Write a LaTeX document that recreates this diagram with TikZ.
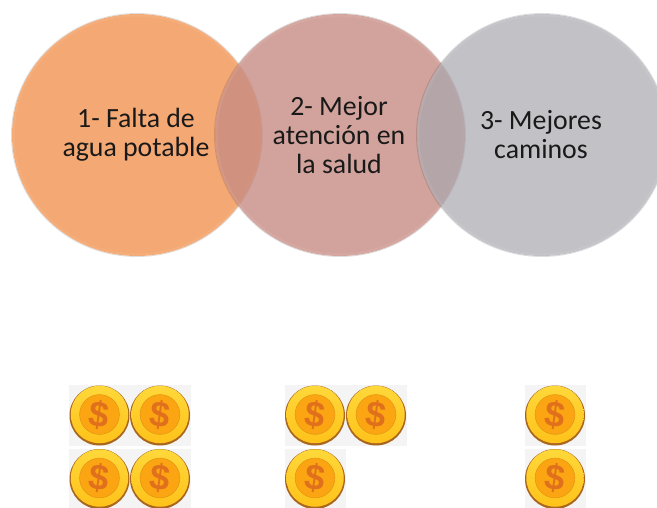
\documentclass[tikz,border=0pt]{standalone}
\usepackage{fontspec}
\setmainfont{Carlito}
\newfontfamily\coinfont{Liberation Sans}
\usetikzlibrary{shapes.geometric}
\definecolor{orangeC}{HTML}{F4A873}
\definecolor{pinkC}{HTML}{C78C83}
\definecolor{grayC}{HTML}{A8A6AE}
\definecolor{coinEdge}{HTML}{A8661E}
\definecolor{coinRim}{HTML}{FFC21A}
\definecolor{coinRimLight}{HTML}{FFD83A}
\definecolor{coinInner}{HTML}{FBA512}
\definecolor{coinSign}{HTML}{E0701C}
\definecolor{coinBack}{HTML}{F4F4F4}
\tikzset{
  x=1pt,y=-1pt,
  disc/.style={ellipse,minimum width=250pt,minimum height=242pt,inner sep=0pt},
  halo/.style={ellipse,minimum width=251pt,minimum height=243pt,inner sep=0pt,draw=black,draw opacity=.13,line width=.9pt},
  bevel/.style={ellipse,minimum width=247pt,minimum height=239pt,inner sep=0pt,draw=white,draw opacity=.07,line width=2pt},
  txt/.style={font=\fontsize{27.8}{29}\selectfont,align=center,text=black!90,inner sep=0pt},
  coinback/.style={fill=coinBack,draw=none,minimum size=61pt,inner sep=0pt},
  coinouter/.style={circle,minimum size=60pt,inner sep=0pt,fill=coinEdge},
  coinface/.style={circle,minimum size=57.5pt,inner sep=0pt,top color=coinRimLight,bottom color=coinRim},
  coininner/.style={circle,minimum size=39pt,inner sep=0pt,fill=coinInner,draw=coinInner!88!black,line width=.4pt,
     text=coinSign,font=\coinfont\bfseries\fontsize{36}{36}\selectfont},
  pics/coin/.style={code={
     \node[coinback] (#1b) at (0,0) {};
     \node[coinouter] (#1o) at (0,0) {};
     \node[coinface] (#1f) at (0,-1) {};
     \node[coininner] (#1i) at (0,-1) {\rotatebox{-8}{\$}};
  }}
}
\begin{document}
\begin{tikzpicture}
\useasboundingbox (0,0) rectangle (657,508);
\clip (0,0) rectangle (657,508);
% discs
\node[halo] (h1) at (137,135) {};
\node[disc,fill=orangeC] (d1) at (137,135) {};
\node[bevel] (b1) at (137,135) {};
\node[halo] (h2) at (340,135) {};
\node[disc,fill=pinkC,fill opacity=.8] (d2) at (340,135) {};
\node[bevel] (b2) at (340,135) {};
\node[halo] (h3) at (542,135) {};
\node[disc,fill=grayC,fill opacity=.7] (d3) at (542,135) {};
\node[bevel] (b3) at (542,135) {};
% texts
\node[txt] (t1) at (136,135) {1- Falta de\\agua potable};
\node[txt] (t2) at (339,135) {2- Mejor\\atenci\'on en\\la salud};
\node[txt] (t3) at (541,135) {3- Mejores\\caminos};
% coins
\pic at (99.5,415.5) {coin=a};
\pic at (160,415.5) {coin=b};
\pic at (99.5,479) {coin=c};
\pic at (160,479) {coin=d};
\pic at (315,415.5) {coin=e};
\pic at (376,415.5) {coin=f};
\pic at (315,479) {coin=g};
\pic at (555,415.5) {coin=h};
\pic at (555,479) {coin=i};
\end{tikzpicture}
\end{document}
